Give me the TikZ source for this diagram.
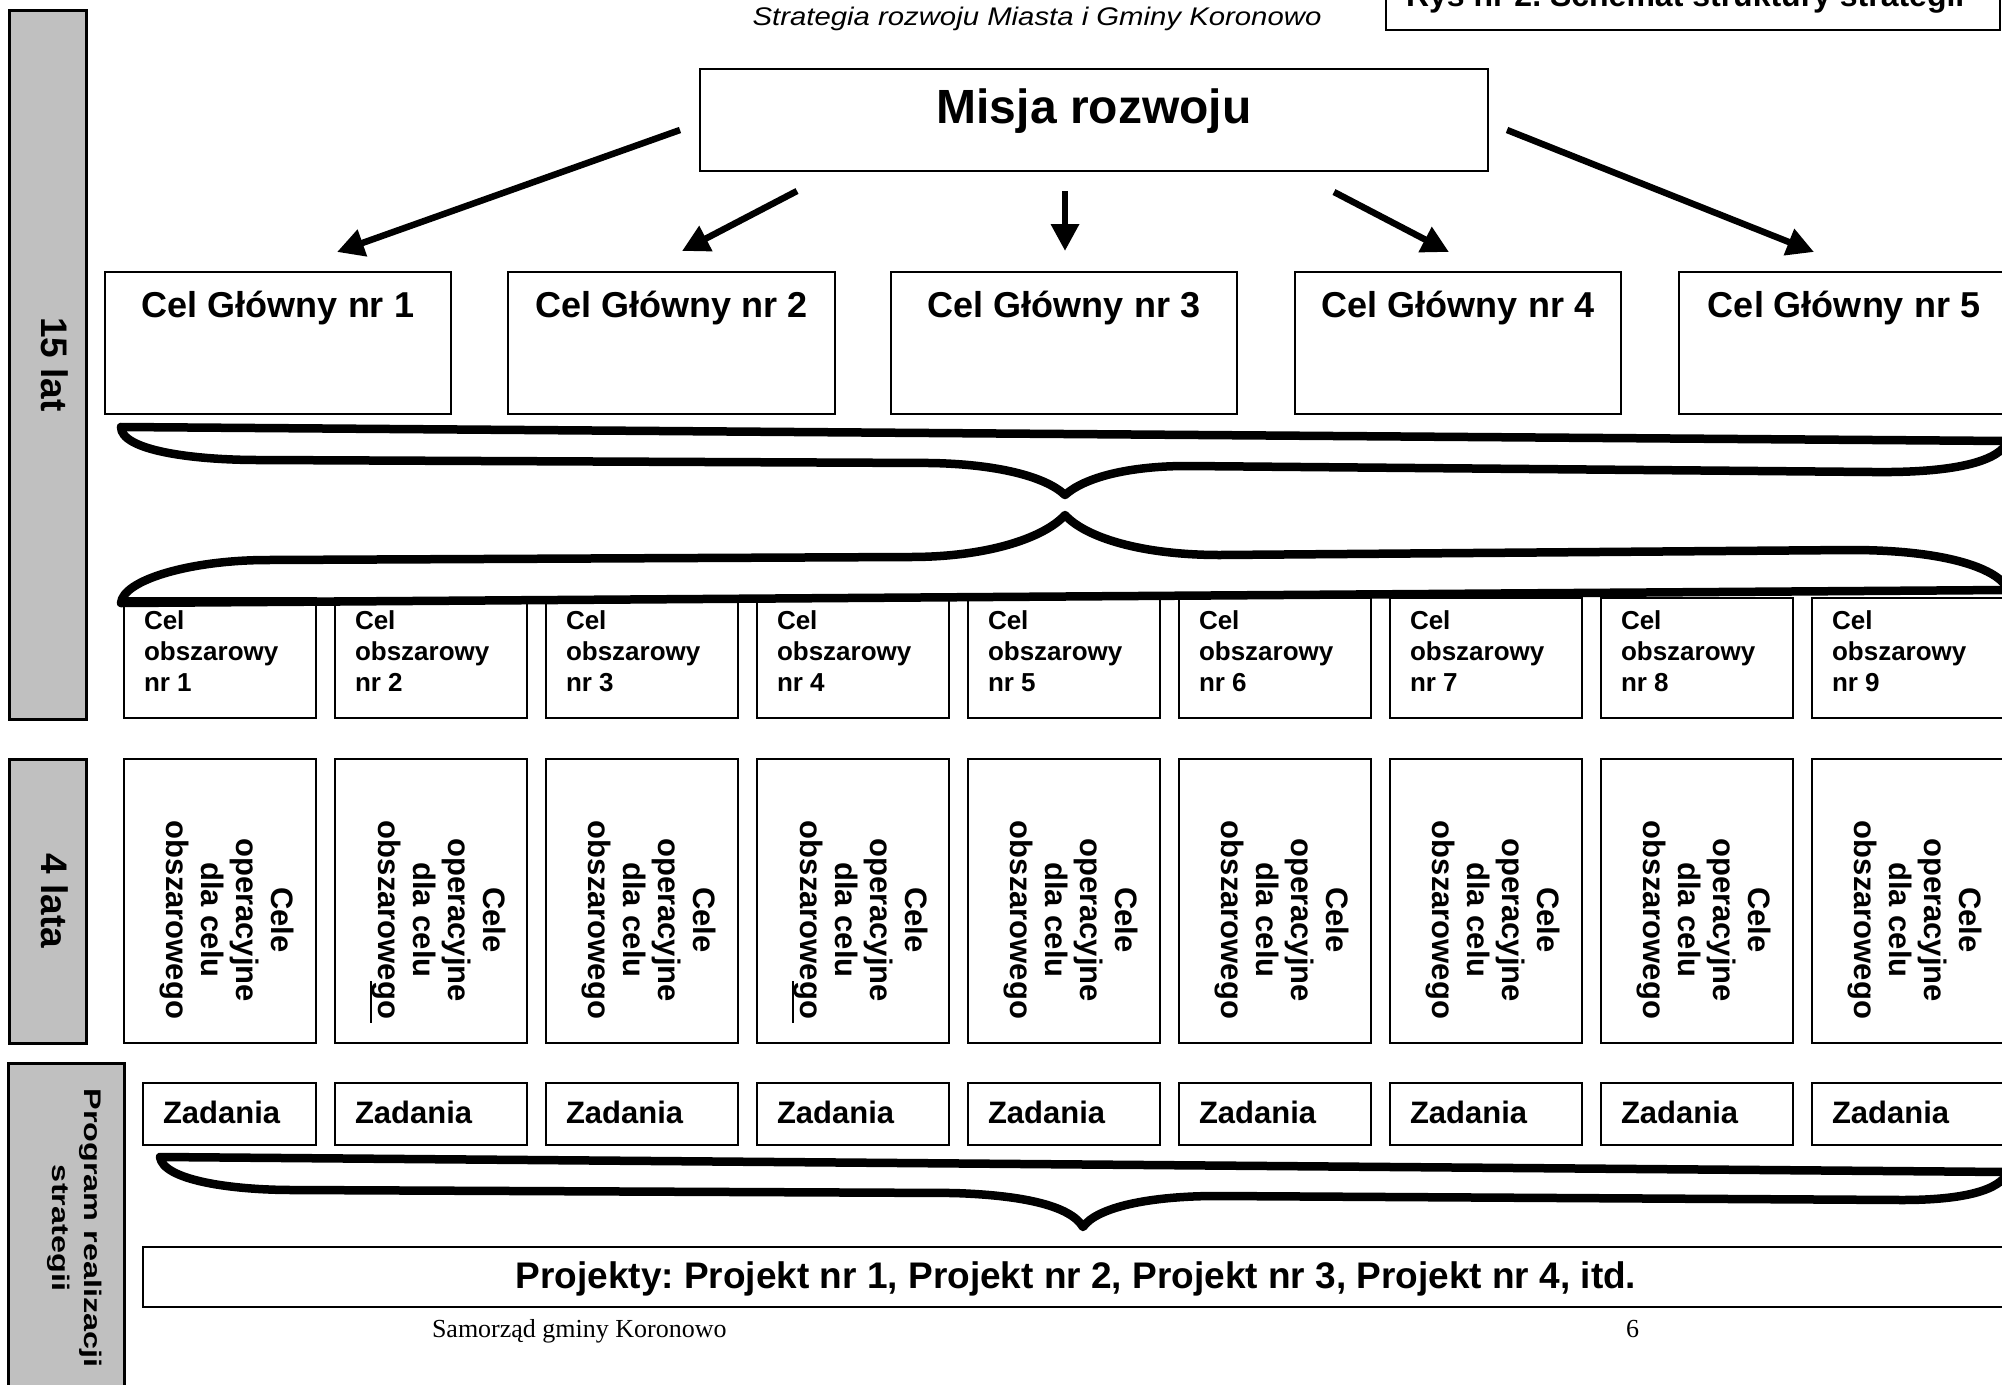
\documentclass[tikz,border=0pt]{standalone}
\usepackage{fontspec}
\setmainfont{Liberation Sans}
\newfontfamily\serifft{Liberation Serif}
\usetikzlibrary{arrows.meta}
\definecolor{barGray}{HTML}{C0C0C0}
\newcommand\fsz[2]{\fontsize{#1pt}{#2pt}\selectfont}
\newcommand\ulword[1]{\setbox0\hbox{#1}\rlap{\rule[-9pt]{\dimexpr\wd0+4pt\relax}{1.8pt}}\box0}
\frenchspacing
\begin{document}
\begin{tikzpicture}[x=1pt,y=-1pt,
  box/.style={draw, line width=2.2pt, inner sep=0pt, outer sep=0pt, anchor=north west, fill=white},
  bar/.style={draw, line width=3pt, fill=barGray, inner sep=0pt, outer sep=0pt, anchor=north west},
  arr/.style={line width=6.5pt, -{Triangle[length=27pt,width=27pt]}},
  brc/.style={line width=8.5pt, line cap=round, line join=round},
  txt/.style={inner sep=0pt, outer sep=0pt}
]
\useasboundingbox (0,0) rectangle (2002,1384);
\clip (0,0) rectangle (2002,1384);
\fill[white] (0,0) rectangle (2002,1384);

% side bars
\node[bar, minimum width=77pt, minimum height=709pt] (bar1) at (9,10) {};
\node[txt, rotate=-90, font=\fsz{37}{44}\bfseries] (bar1t) at ([xshift=7.5pt]bar1.center) {15 lat};
\node[bar, minimum width=77pt, minimum height=284pt] (bar2) at (9,759) {};
\node[txt, rotate=-90, font=\fsz{37}{44}\bfseries] (bar2t) at ([xshift=7.5pt]bar2.center) {4 lata};
\node[bar, minimum width=116pt, minimum height=340pt] (bar3) at (8,1063) {};
\node[txt, rotate=-90, align=center, font=\fsz{24}{32}\bfseries\addfontfeatures{FakeStretch=1.35}] (bar3t) at ([xshift=9pt,yshift=5pt]bar3.center) {Program realizacji\\strategii};

% header
\node[txt, anchor=base, font=\fsz{25.5}{30}\itshape\addfontfeatures{FakeStretch=1.15}] (hdr) at (1037,25) {Strategia rozwoju Miasta i Gminy Koronowo};
\node[box, minimum width=614pt, minimum height=60pt] (rys) at (1386,-30) {};
\node[txt, anchor=base west, font=\fsz{32}{38}\bfseries] (ryst) at ([xshift=20pt,yshift=24pt]rys.south west) {Rys nr 2. Schemat struktury strategii};

% mission
\node[box, minimum width=788pt, minimum height=102pt] (misja) at (700,69) {};
\node[txt, anchor=base, font=\fsz{48}{56}\bfseries] (misjat) at ([yshift=-54pt]misja.north) {Misja rozwoju};

% main goals
\foreach \i/\x/\w in {1/105/346, 2/508/327, 3/891/346, 4/1295/326, 5/1679/330} {
  \node[box, minimum width=\w pt, minimum height=142pt] (cg\i) at (\x,272) {};
  \node[txt, anchor=base, font=\fsz{36}{42}\bfseries] (cgt\i) at ([yshift=-45pt]cg\i.north) {Cel Główny nr \i};
}

% arrows
\coordinate (a1s) at (680,130);  \coordinate (a1e) at (337,252);
\coordinate (a2s) at (797,191);  \coordinate (a2e) at (682,251);
\coordinate (a3s) at (1065,191); \coordinate (a3e) at (1065,251);
\coordinate (a4s) at (1334,192); \coordinate (a4e) at (1449,252);
\coordinate (a5s) at (1507,130); \coordinate (a5e) at (1814,252);
\foreach \k in {1,...,5} { \draw[arr] (a\k s) -- (a\k e); }

% area goals, operational goals, tasks
\foreach \i in {1,...,9} {
  \pgfmathsetmacro\xx{124+211*(\i-1)}
  \node[box, minimum width=192pt, minimum height=120pt] (co\i) at (\xx,598) {};
  \node[txt, anchor=north west, align=left, font=\fsz{26}{31}\bfseries] (cot\i) at ([xshift=20pt,yshift=-13pt]co\i.north west) {Cel\\obszarowy\\nr \i};
  \node[box, minimum width=192pt, minimum height=284pt] (op\i) at (\xx,759) {};
  \node[txt, rotate=-90, align=center, font=\fsz{31}{35}\bfseries] (opt\i) at ([xshift=7pt,yshift=-19pt]op\i.center) {Cele\\operacyjne\\dla celu\\\ifnum\i=2 obszarowe\ulword{go}\else\ifnum\i=4 obszarowe\ulword{go}\else obszarowego\fi\fi};
}
\node[box, minimum width=173pt, minimum height=62pt] (z1) at (143,1083) {};
\foreach \i in {2,...,9} {
  \pgfmathsetmacro\xx{124+211*(\i-1)}
  \node[box, minimum width=192pt, minimum height=62pt] (z\i) at (\xx,1083) {};
}
\foreach \i in {1,...,9} {
  \node[txt, anchor=base west, font=\fsz{31}{36}\bfseries] (zt\i) at ([xshift=20pt,yshift=-40pt]z\i.north west) {Zadania};
}

% projects
\node[box, minimum width=1866pt, minimum height=60pt] (proj) at (143,1247) {};
\node[txt, anchor=base, font=\fsz{37}{44}\bfseries] (projt) at ([yshift=-41pt]proj.north) {Projekty: Projekt nr 1, Projekt nr 2, Projekt nr 3, Projekt nr 4, itd.};

% braces
\draw[brc] (121,427) -- (2008,441);
\draw[brc] (121,427) .. controls (121,450) and (190,460) .. (259,460) -- (930,463)
  .. controls (995,464) and (1045,476) .. (1065,495)
  .. controls (1085,477) and (1130,466) .. (1187,466) -- (1873,472)
  .. controls (1960,473) and (2000,460) .. (2008,441);
\draw[brc] (121,603) -- (2008,590);
\draw[brc] (121,603) .. controls (123,580) and (190,560) .. (268,560) -- (910,557)
  .. controls (990,557) and (1045,537) .. (1065,515)
  .. controls (1085,537) and (1140,555) .. (1220,555) -- (1851,550)
  .. controls (1950,550) and (2000,570) .. (2008,590);
\draw[brc] (160,1157) -- (2008,1172);
\draw[brc] (160,1157) .. controls (163,1180) and (230,1190) .. (293,1190) -- (953,1193)
  .. controls (1020,1195) and (1070,1205) .. (1083,1227)
  .. controls (1097,1207) and (1150,1196) .. (1217,1196) -- (1902,1200)
  .. controls (1965,1200) and (2000,1190) .. (2008,1172);

% footer
\node[txt, anchor=base west, font=\serifft\fsz{26}{30}] (foot) at (432,1337) {Samorząd gminy Koronowo};
\node[txt, anchor=base west, font=\serifft\fsz{26}{30}] (pgno) at (1626,1337) {6};
\end{tikzpicture}
\end{document}
